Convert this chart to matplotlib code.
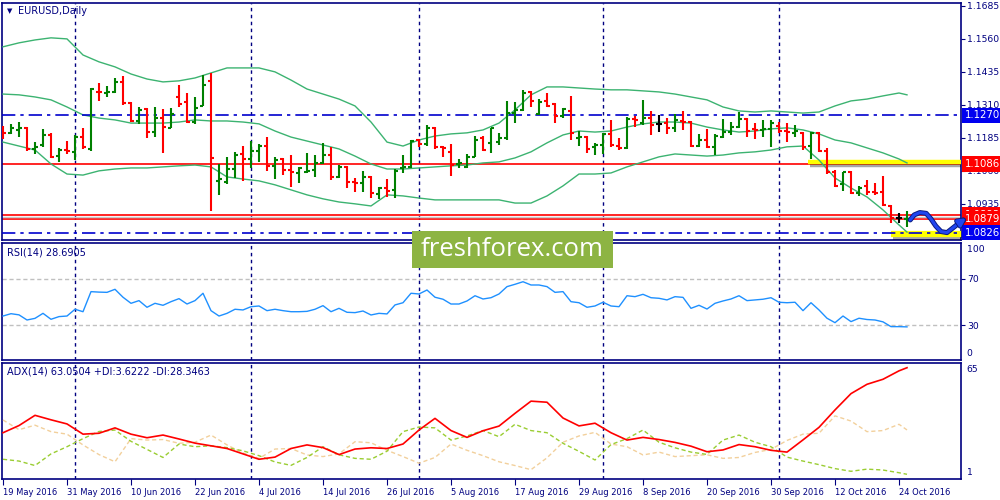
import matplotlib
matplotlib.use("Agg")
import matplotlib.pyplot as plt
import matplotlib.patheffects as pe
from matplotlib.patches import Rectangle
import pandas as pd

# daily bars 19 May 2016 .. 25 Oct 2016
dates = pd.bdate_range("2016-05-19", "2016-10-25")

opens = [1.1221, 1.1202, 1.1215, 1.1221, 1.1142, 1.1157, 1.1196, 1.1117, 1.1139, 1.1132,
         1.1187, 1.1142, 1.1360, 1.1354, 1.1358, 1.1396, 1.1316, 1.1250, 1.1295, 1.1207,
         1.1259, 1.1224, 1.1338, 1.1320, 1.1247, 1.1307, 1.1401, 1.1023, 1.1019, 1.1066,
         1.1123, 1.1104, 1.1137, 1.1154, 1.1079, 1.1104, 1.1063, 1.1053, 1.1057, 1.1063,
         1.1089, 1.1120, 1.1038, 1.1076, 1.1018, 1.1013, 1.1038, 1.0973, 1.0994, 1.0988,
         1.1070, 1.1076, 1.1177, 1.1161, 1.1224, 1.1149, 1.1130, 1.1085, 1.1076, 1.1111,
         1.1186, 1.1164, 1.1171, 1.1183, 1.1278, 1.1291, 1.1358, 1.1274, 1.1325, 1.1312,
         1.1266, 1.1287, 1.1186, 1.1190, 1.1152, 1.1158, 1.1200, 1.1154, 1.1146, 1.1257,
         1.1240, 1.1259, 1.1238, 1.1240, 1.1221, 1.1249, 1.1247, 1.1154, 1.1177, 1.1149,
         1.1190, 1.1209, 1.1225, 1.1255, 1.1219, 1.1213, 1.1219, 1.1230, 1.1211, 1.1205,
         1.1203, 1.1154, 1.1205, 1.1135, 1.1057, 1.1009, 1.1055, 1.0975, 1.1003, 1.0979,
         1.0979, 1.0927, 1.0880, 1.0877]
highs = [1.1230, 1.1238, 1.1245, 1.1228, 1.1170, 1.1219, 1.1205, 1.1146, 1.1175, 1.1196,
         1.1223, 1.1373, 1.1392, 1.1382, 1.1411, 1.1420, 1.1320, 1.1303, 1.1300, 1.1303,
         1.1295, 1.1297, 1.1386, 1.1354, 1.1338, 1.1424, 1.1430, 1.1086, 1.1111, 1.1132,
         1.1154, 1.1173, 1.1162, 1.1187, 1.1111, 1.1110, 1.1120, 1.1074, 1.1127, 1.1120,
         1.1167, 1.1149, 1.1082, 1.1079, 1.1032, 1.1060, 1.1041, 1.0998, 1.1028, 1.1066,
         1.1120, 1.1177, 1.1180, 1.1233, 1.1226, 1.1154, 1.1161, 1.1105, 1.1123, 1.1192,
         1.1192, 1.1224, 1.1205, 1.1325, 1.1319, 1.1367, 1.1363, 1.1331, 1.1354, 1.1316,
         1.1297, 1.1344, 1.1211, 1.1192, 1.1167, 1.1205, 1.1253, 1.1186, 1.1263, 1.1269,
         1.1329, 1.1287, 1.1272, 1.1259, 1.1276, 1.1287, 1.1249, 1.1200, 1.1218, 1.1200,
         1.1257, 1.1247, 1.1282, 1.1259, 1.1243, 1.1253, 1.1253, 1.1247, 1.1240, 1.1234,
         1.1209, 1.1209, 1.1209, 1.1147, 1.1063, 1.1057, 1.1060, 1.1003, 1.1025, 1.1013,
         1.1041, 1.0931, 1.0899, 1.0908]
lows = [1.1180, 1.1200, 1.1187, 1.1137, 1.1124, 1.1149, 1.1110, 1.1095, 1.1123, 1.1101,
        1.1144, 1.1137, 1.1326, 1.1338, 1.1354, 1.1310, 1.1244, 1.1237, 1.1186, 1.1190,
        1.1129, 1.1221, 1.1303, 1.1240, 1.1237, 1.1306, 1.0909, 1.0969, 1.1010, 1.1032,
        1.1023, 1.1070, 1.1095, 1.1061, 1.1028, 1.1045, 1.1000, 1.1015, 1.1051, 1.1038,
        1.1086, 1.1025, 1.1034, 1.0996, 1.0978, 1.0978, 1.0956, 1.0952, 1.0962, 1.0956,
        1.1051, 1.1070, 1.1149, 1.1156, 1.1142, 1.1111, 1.1042, 1.1070, 1.1070, 1.1111,
        1.1135, 1.1129, 1.1158, 1.1177, 1.1240, 1.1285, 1.1303, 1.1272, 1.1303, 1.1243,
        1.1259, 1.1177, 1.1154, 1.1129, 1.1120, 1.1123, 1.1149, 1.1139, 1.1142, 1.1228,
        1.1234, 1.1196, 1.1209, 1.1200, 1.1209, 1.1215, 1.1149, 1.1149, 1.1148, 1.1120,
        1.1183, 1.1196, 1.1221, 1.1190, 1.1181, 1.1190, 1.1149, 1.1205, 1.1168, 1.1190,
        1.1139, 1.1104, 1.1133, 1.1048, 1.1000, 1.0984, 1.0972, 1.0965, 1.0969, 1.0969,
        1.0927, 1.0861, 1.0861, 1.0848]
closes = [1.1205, 1.1223, 1.1221, 1.1142, 1.1152, 1.1196, 1.1111, 1.1139, 1.1135, 1.1187,
          1.1149, 1.1370, 1.1358, 1.1359, 1.1396, 1.1316, 1.1250, 1.1291, 1.1207, 1.1259,
          1.1225, 1.1276, 1.1314, 1.1244, 1.1297, 1.1386, 1.1108, 1.1028, 1.1066, 1.1120,
          1.1104, 1.1135, 1.1154, 1.1079, 1.1101, 1.1063, 1.1057, 1.1070, 1.1061, 1.1089,
          1.1120, 1.1036, 1.1076, 1.1019, 1.1013, 1.1038, 1.0975, 1.0994, 1.0985, 1.1061,
          1.1076, 1.1173, 1.1161, 1.1221, 1.1149, 1.1148, 1.1082, 1.1089, 1.1114, 1.1177,
          1.1139, 1.1221, 1.1183, 1.1278, 1.1291, 1.1354, 1.1325, 1.1320, 1.1307, 1.1266,
          1.1293, 1.1202, 1.1190, 1.1142, 1.1158, 1.1200, 1.1158, 1.1146, 1.1257, 1.1253,
          1.1259, 1.1234, 1.1238, 1.1221, 1.1253, 1.1244, 1.1154, 1.1177, 1.1149, 1.1192,
          1.1209, 1.1228, 1.1257, 1.1211, 1.1215, 1.1219, 1.1240, 1.1211, 1.1209, 1.1211,
          1.1152, 1.1204, 1.1137, 1.1056, 1.1004, 1.1055, 1.0977, 1.0996, 1.0979, 1.0976,
          1.0931, 1.0880, 1.0880, 1.0879]

# indicator readings, taken every second bar plus the last one
ind_idx = list(range(0, 113, 2)) + [113]
bb_upper = [1.1530, 1.1545, 1.1556, 1.1564, 1.1560, 1.1499, 1.1473, 1.1454, 1.1427, 1.1408,
            1.1397, 1.1401, 1.1412, 1.1431, 1.1450, 1.1450, 1.1450, 1.1435, 1.1404, 1.1370,
            1.1351, 1.1332, 1.1306, 1.1245, 1.1169, 1.1154, 1.1177, 1.1192, 1.1200, 1.1204,
            1.1215, 1.1241, 1.1291, 1.1348, 1.1378, 1.1378, 1.1374, 1.1370, 1.1367, 1.1367,
            1.1363, 1.1359, 1.1351, 1.1340, 1.1329, 1.1302, 1.1287, 1.1283, 1.1287, 1.1283,
            1.1279, 1.1283, 1.1306, 1.1325, 1.1332, 1.1344, 1.1355, 1.1348]
bb_middle = [1.1351, 1.1348, 1.1340, 1.1329, 1.1302, 1.1272, 1.1260, 1.1253, 1.1241, 1.1241,
             1.1241, 1.1245, 1.1253, 1.1249, 1.1249, 1.1245, 1.1238, 1.1211, 1.1188, 1.1173,
             1.1158, 1.1143, 1.1116, 1.1086, 1.1067, 1.1067, 1.1071, 1.1075, 1.1079, 1.1082,
             1.1090, 1.1094, 1.1109, 1.1132, 1.1166, 1.1196, 1.1211, 1.1207, 1.1211, 1.1226,
             1.1238, 1.1245, 1.1245, 1.1241, 1.1226, 1.1215, 1.1207, 1.1211, 1.1219, 1.1223,
             1.1215, 1.1200, 1.1177, 1.1166, 1.1147, 1.1128, 1.1105, 1.1090]
bb_lower = [1.1169, 1.1154, 1.1139, 1.1086, 1.1048, 1.1044, 1.1060, 1.1067, 1.1071, 1.1071,
            1.1075, 1.1079, 1.1082, 1.1075, 1.1037, 1.1029, 1.1022, 1.1007, 1.0988, 1.0969,
            1.0954, 1.0942, 1.0935, 1.0927, 1.0969, 1.0965, 1.0957, 1.0950, 1.0950, 1.0950,
            1.0950, 1.0950, 1.0938, 1.0938, 1.0965, 1.1003, 1.1048, 1.1048, 1.1052, 1.1075,
            1.1094, 1.1113, 1.1124, 1.1120, 1.1116, 1.1120, 1.1128, 1.1132, 1.1139, 1.1151,
            1.1154, 1.1101, 1.1033, 1.0995, 1.0961, 1.0912, 1.0855, 1.0828]

rsi = [38.0, 40.0, 39.0, 34.6, 36.0, 40.3, 35.2, 37.5, 38.0, 43.8,
       41.7, 58.9, 58.5, 58.3, 60.9, 54.1, 48.9, 51.2, 45.5, 48.9,
       47.2, 50.3, 52.9, 48.3, 51.2, 57.5, 42.6, 38.0, 40.3, 43.8,
       43.2, 46.0, 46.6, 42.6, 43.8, 42.6, 41.7, 41.7, 42.0, 43.8,
       46.9, 41.7, 44.6, 41.2, 40.9, 42.3, 38.9, 40.3, 39.8, 47.5,
       49.4, 57.5, 56.9, 60.3, 54.1, 52.4, 48.3, 48.3, 50.9, 55.4,
       52.6, 53.7, 56.9, 63.2, 65.2, 67.4, 64.6, 64.6, 63.2, 58.3,
       58.9, 50.3, 49.4, 45.5, 46.6, 49.8, 46.6, 46.0, 55.4, 54.6,
       56.6, 53.7, 53.2, 51.8, 54.6, 54.0, 44.6, 47.2, 44.0, 48.9,
       50.9, 52.6, 55.4, 51.2, 51.8, 52.4, 53.7, 49.8, 49.4, 49.8,
       42.6, 49.4, 43.2, 36.1, 32.3, 38.0, 33.2, 36.1, 35.0, 34.6,
       33.0, 28.9, 28.9, 28.69]

adx = [26.8, 30.8, 36.5, 34.0, 31.7, 26.0, 26.5, 29.5, 26.0, 24.0,
       25.5, 23.3, 21.0, 19.5, 18.0, 15.0, 12.0, 13.2, 18.0, 20.0,
       18.5, 14.6, 17.7, 18.4, 18.0, 20.5, 28.3, 34.8, 28.0, 24.2,
       27.9, 30.5, 37.6, 44.4, 43.8, 35.0, 30.6, 32.1, 26.8, 22.7,
       24.2, 23.0, 21.4, 19.3, 16.2, 17.2, 20.2, 19.0, 17.0, 16.0,
       22.8, 29.8, 39.5, 48.6, 53.8, 56.6, 61.3, 63.05]
plus_di = [12.0, 11.0, 8.5, 15.0, 19.0, 23.5, 27.5, 28.3, 22.0, 17.5,
           13.0, 20.5, 19.0, 19.5, 18.5, 16.7, 14.0, 10.5, 8.6, 13.0,
           19.0, 14.5, 12.5, 12.0, 16.5, 27.4, 30.0, 29.5, 22.7, 25.0,
           28.0, 24.6, 31.5, 28.0, 26.8, 20.9, 16.4, 11.6, 20.2, 23.5,
           28.3, 21.5, 18.4, 16.0, 14.7, 22.7, 25.5, 21.5, 19.0, 13.2,
           11.0, 9.0, 6.8, 5.3, 6.5, 6.0, 4.5, 3.62]
minus_di = [33.9, 28.5, 31.0, 27.4, 26.0, 20.0, 14.6, 10.6, 23.5, 22.7,
            23.0, 20.9, 21.5, 25.5, 20.0, 15.5, 12.5, 17.7, 18.0, 14.4,
            13.5, 15.0, 21.8, 21.2, 17.0, 13.5, 9.8, 13.0, 20.5, 17.0,
            14.0, 10.6, 8.5, 6.2, 12.8, 21.5, 25.0, 27.0, 20.5, 19.0,
            14.4, 16.0, 13.5, 14.0, 14.5, 12.5, 13.0, 15.8, 17.5, 22.5,
            26.0, 26.5, 36.2, 33.3, 27.4, 28.0, 31.5, 28.35]

price_ticks = [1.1685, 1.1560, 1.1435, 1.1310, 1.1185, 1.1060, 1.0935, 1.0810]
red_levels = [1.1086, 1.0893, 1.0879]
blue_levels = [1.1270, 1.0826]
# hand drawn forecast arrow (bar number, price)
fc_bar = [113.4, 113.9, 114.6, 115.4, 116.0, 116.6, 117.25, 118.0, 118.75, 119.5]
fc_price = [1.0874, 1.0893, 1.0902, 1.0899, 1.0878, 1.0851, 1.0830, 1.0826, 1.0844, 1.0862]
fc_tip = (120.4, 1.0881)

NAVY = "#000080"
FS = 6.7
plt.rcParams["font.family"] = ["DejaVu Sans"]

fig = plt.figure(figsize=(10, 5), dpi=100, facecolor="white")
ax_p = fig.add_axes([0.002, 0.52, 0.959, 0.474])
ax_r = fig.add_axes([0.002, 0.28, 0.959, 0.234])
ax_a = fig.add_axes([0.002, 0.042, 0.959, 0.232])

n = len(closes)
idx = list(range(n))
month_starts = [i for i in range(1, n) if dates[i].month != dates[i - 1].month]

for ax in (ax_p, ax_r, ax_a):
    ax.set_xlim(-0.125, 119.75)
    for s in ax.spines.values():
        s.set_color(NAVY)
        s.set_linewidth(1.2)
    ax.yaxis.tick_right()
    ax.tick_params(axis="y", length=3, color=NAVY, labelcolor=NAVY, labelsize=FS, pad=1.5)
    ax.tick_params(axis="x", length=0, labelbottom=False)
    for m in month_starts:
        ax.axvline(m, color=NAVY, lw=1, ls=(0, (2.5, 2.5)), zorder=1)

# ---- price panel
ax_p.set_ylim(1.0798, 1.1696)
ax_p.set_yticks(price_ticks)
ax_p.set_yticklabels([f"{t:.4f}" for t in price_ticks])

for lv in blue_levels:
    ax_p.axhline(lv, color="#0000CD", lw=1.2, ls=(0, (8, 3, 2, 3)), zorder=4)
for lv in red_levels:
    ax_p.axhline(lv, color="red", lw=1.2, zorder=2)
ax_p.axhline((red_levels[1] + red_levels[2]) / 2, color="#C8C8C8", lw=1, zorder=2)

shadow = [pe.SimpleLineShadow(offset=(1.5, -2), alpha=0.35), pe.Normal()]
ax_p.plot([100.6, 119.75], [1.1094, 1.1094], color="#FFFF00", lw=3.2,
          solid_capstyle="butt", zorder=3, path_effects=shadow)
ax_p.plot([111.0, 119.75], [1.0821, 1.0821], color="#FFFF00", lw=4.5,
          solid_capstyle="butt", zorder=3, path_effects=shadow)

bb_col = "#3CB371"
for band in (bb_upper, bb_middle, bb_lower):
    ax_p.plot(ind_idx, band, color=bb_col, lw=1.0, zorder=3)

cols = ["#008000" if c > o else ("red" if c < o else "black") for o, c in zip(opens, closes)]
ax_p.vlines(idx, lows, highs, colors=cols, lw=1.5, zorder=5)
ax_p.hlines(opens, [i - 0.42 for i in idx], idx, colors=cols, lw=1.5, zorder=5)
ax_p.hlines(closes, idx, [i + 0.42 for i in idx], colors=cols, lw=1.5, zorder=5)

ytr = ax_p.get_yaxis_transform()
box_levels = [(1.1270, "#0000F0"), (1.1086, "red"), (1.0893, "red"),
              (1.0879, "red"), (1.0826, "#0000F0")]
for lv, fc in box_levels:
    ax_p.text(1.0045, lv, f"{lv:.4f}", transform=ytr, ha="left", va="center",
              color="white", fontsize=FS + 0.6, clip_on=False, zorder=20,
              bbox=dict(boxstyle="square,pad=0.28", fc=fc, ec="none"))

arrow_fx = [pe.Stroke(linewidth=3.6, foreground="#0A1A80"), pe.Normal()]
ax_p.plot(fc_bar, fc_price, color="#2045F0", lw=2.2, zorder=30, clip_on=False,
          solid_capstyle="round", path_effects=arrow_fx)
ax_p.annotate("", xy=fc_tip, xytext=(fc_bar[-1], fc_price[-1]), annotation_clip=False,
              arrowprops=dict(arrowstyle="-|>", color="#2045F0", lw=2.2,
                              mutation_scale=11, shrinkA=0, shrinkB=0,
                              path_effects=arrow_fx), zorder=30)

fig.text(0.007, 0.978, "\u25BC", fontsize=5, color=NAVY, va="center")
fig.text(0.018, 0.978, "EURUSD,Daily", fontsize=FS + 0.3, color=NAVY, va="center")

# ---- RSI panel
ax_r.set_ylim(0.3, 100.6)
ax_r.plot(idx, rsi, color="#1E90FF", lw=1.0, zorder=3)
for lv in (70, 30):
    ax_r.axhline(lv, color="#C0C0C0", lw=1, ls=(0, (3, 2)), zorder=2)
ax_r.set_yticks([70, 30])
ax_r.set_yticklabels(["70", "30"])
ax_r.text(1.006, 0.946, "100", transform=ax_r.transAxes, fontsize=FS, color=NAVY,
          va="center", clip_on=False)
ax_r.text(1.006, 0.054, "0", transform=ax_r.transAxes, fontsize=FS, color=NAVY,
          va="center", clip_on=False)
ax_r.text(0.005, 0.92, "RSI(14) 28.6905",
          transform=ax_r.transAxes, fontsize=FS + 0.3, color=NAVY, va="center")

# ---- ADX panel
ax_a.set_ylim(1.0, 65.67)
ax_a.plot(ind_idx, minus_di, color="#F2D09C", lw=1.0, ls=(0, (3, 2)), zorder=3)
ax_a.plot(ind_idx, plus_di, color="#9ACD32", lw=1.0, ls=(0, (3, 2)), zorder=3)
ax_a.plot(ind_idx, adx, color="red", lw=1.2, zorder=4)
ax_a.set_yticks([])
ax_a.text(1.006, 0.948, "65", transform=ax_a.transAxes, fontsize=FS, color=NAVY,
          va="center", clip_on=False)
ax_a.text(1.006, 0.054, "1", transform=ax_a.transAxes, fontsize=FS, color=NAVY,
          va="center", clip_on=False)
ax_a.text(0.005, 0.93, "ADX(14) 63.0504 +DI:3.6222 -DI:28.3463",
          transform=ax_a.transAxes, fontsize=FS + 0.3, color=NAVY, va="center")

label_idx = list(range(0, n, 8))
ax_a.set_xticks(label_idx)
ax_a.set_xticklabels([f"{dates[i].day} {dates[i].strftime('%b %Y')}" for i in label_idx],
                     ha="left")
ax_a.tick_params(axis="x", length=4, color=NAVY, labelcolor=NAVY, labelsize=6.0,
                 labelbottom=True, pad=2.5)

# watermark
fig.add_artist(Rectangle((0.412, 0.464), 0.201, 0.074, transform=fig.transFigure,
                         fc="#8DB443", ec="none", zorder=10))
fig.text(0.5125, 0.5005, "freshforex.com", ha="center", va="center", color="white",
         fontsize=18.5, family="Open Sans", zorder=11)

fig.savefig("out.png", dpi=100, facecolor="white")
